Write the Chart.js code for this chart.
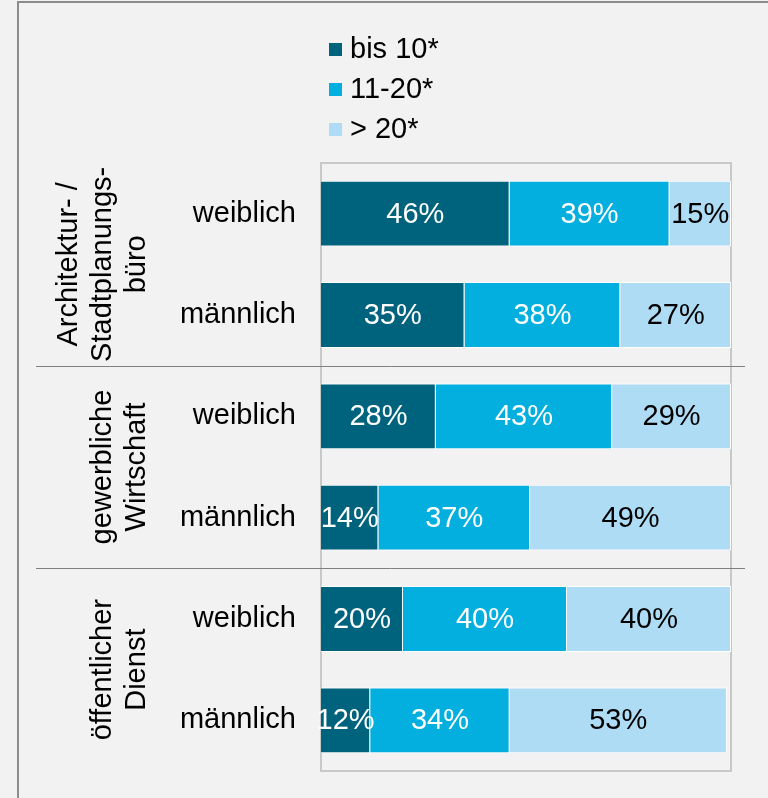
<!DOCTYPE html>
<html>
<head>
<meta charset="utf-8">
<script src="https://cdn.jsdelivr.net/npm/chart.js@4"></script>
<style>
  body { margin: 0; background: #f2f2f2; }
  canvas { display: block; }
</style>
</head>
<body>
<canvas id="chart" width="768" height="798"></canvas>
<script>
// rows (top to bottom) and the groups they belong to
const rowLabels = ["weiblich", "männlich", "weiblich", "männlich", "weiblich", "männlich"];
const groupLabels = [
  ["Architektur- /", "Stadtplanungs-", "büro"],
  ["gewerbliche", "Wirtschaft"],
  ["öffentlicher", "Dienst"]
];
const seriesNames = ["bis 10*", "11-20*", "> 20*"];
const upTo10 = [46, 35, 28, 14, 20, 12];
const from11to20 = [39, 38, 43, 37, 40, 34];
const over20 = [15, 27, 29, 49, 40, 53];

const colors = ["#00637e", "#02afdf", "#afdcf5"];
const labelColors = ["#ffffff", "#ffffff", "#000000"];
const FONT = "Liberation Sans, Arial, sans-serif";
const SIZE = 29;

// background, frame, plot box
const backdrop = {
  id: "backdrop",
  beforeDraw(chart) {
    const c = chart.ctx;
    c.save();
    c.fillStyle = "#f2f2f2";
    c.fillRect(0, 0, chart.width, chart.height);
    c.fillStyle = "#8c8c8c";
    c.fillRect(17, 1, 2, chart.height);
    c.fillRect(17, 1, chart.width, 2);
    c.restore();
  },
  beforeDatasetsDraw(chart) {
    const a = chart.chartArea;
    const c = chart.ctx;
    c.save();
    c.strokeStyle = "#c8c8c8";
    c.lineWidth = 2;
    c.strokeRect(a.left, a.top, a.right - a.left, a.bottom - a.top);
    c.restore();
  }
};

// value labels, separators, group labels, legend
const extras = {
  id: "extras",
  afterDatasetsDraw(chart) {
    const c = chart.ctx;
    const y = chart.scales.y;
    c.save();
    c.font = SIZE + "px " + FONT;
    c.textAlign = "center";
    c.textBaseline = "middle";
    chart.data.datasets.forEach((ds, d) => {
      const meta = chart.getDatasetMeta(d);
      meta.data.forEach((bar, i) => {
        const p = bar.getCenterPoint();
        c.fillStyle = labelColors[d];
        c.fillText(Math.round(ds.data[i]) + "%", p.x, p.y + 1);
      });
    });

    // separators between groups
    c.strokeStyle = "#808080";
    c.lineWidth = 1;
    for (let g = 1; g < groupLabels.length; g++) {
      const sy = Math.round((y.getPixelForValue(2 * g - 1) + y.getPixelForValue(2 * g)) / 2) + 0.5;
      c.beginPath();
      c.moveTo(36, sy);
      c.lineTo(745, sy);
      c.stroke();
    }

    // rotated group labels
    c.fillStyle = "#000";
    groupLabels.forEach((lines, g) => {
      const cy = (y.getPixelForValue(2 * g) + y.getPixelForValue(2 * g + 1)) / 2;
      lines.forEach((line, i) => {
        const x = 137 - (lines.length - 1 - i) * 34;
        c.save();
        c.translate(x, cy);
        c.rotate(-Math.PI / 2);
        c.fillText(line, 0, 0);
        c.restore();
      });
    });

    // legend
    c.textAlign = "left";
    chart.data.datasets.forEach((ds, d) => {
      const ly = 49 + d * 40;
      c.fillStyle = ds.backgroundColor;
      c.fillRect(329, ly - 6, 13, 13);
      c.fillStyle = "#000";
      c.fillText(ds.label, 350, ly + 1);
    });
    c.restore();
  }
};

const data = [upTo10, from11to20, over20];

new Chart(document.getElementById("chart"), {
  type: "bar",
  data: {
    labels: rowLabels,
    datasets: seriesNames.map((name, i) => ({
      label: name,
      data: data[i],
      backgroundColor: colors[i],
      borderColor: "#ffffff",
      borderWidth: 1,
      barPercentage: 0.65,
      categoryPercentage: 1
    }))
  },
  options: {
    indexAxis: "y",
    responsive: false,
    devicePixelRatio: 1,
    animation: false,
    layout: { padding: { left: 0, right: 37, top: 163, bottom: 27 } },
    plugins: { legend: { display: false }, tooltip: { enabled: false } },
    scales: {
      x: { stacked: true, min: 0, max: 100, display: false },
      y: {
        stacked: true,
        grid: { display: false },
        border: { display: false },
        ticks: { color: "#000", padding: 17, font: { family: FONT, size: SIZE } },
        afterFit(scale) {
          scale.width = 321;
          scale.paddingTop = 0;
          scale.paddingBottom = 0;
        }
      }
    }
  },
  plugins: [backdrop, extras]
});
</script>
</body>
</html>
